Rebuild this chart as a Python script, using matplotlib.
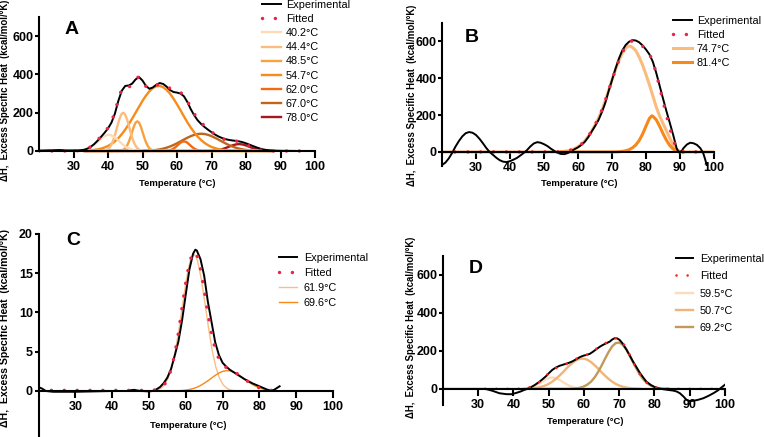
import matplotlib
matplotlib.use("Agg")
import matplotlib.pyplot as plt
from matplotlib.lines import Line2D

plt.rcParams['font.family'] = ['Liberation Sans', 'DejaVu Sans']

# ---------------- Panel A data ----------------
A_exp_T = [20, 22, 24, 26, 28, 30, 32, 33, 34, 35, 36, 37, 38, 39, 40, 41, 42, 43, 44, 45, 46, 47, 48, 49, 50,
           51, 52, 53, 54, 55, 56, 57, 58, 59, 60, 61, 62, 63, 64, 65, 66, 67, 68, 69, 70, 71, 72, 73, 74, 75,
           76, 77, 78, 79, 80, 81, 82, 83, 84, 85, 86, 87, 88, 90, 95, 100]
A_exp_Y = [2, 3, 4, 5, 3, 3, 4, 6, 12, 22, 36, 54, 74, 95, 118, 148, 195, 262, 315, 340, 342, 352, 374, 386, 368,
           340, 325, 332, 346, 355, 350, 336, 318, 308, 305, 300, 286, 256, 218, 186, 160, 141, 125, 111, 98, 86,
           76, 68, 62, 58, 55, 53, 50, 46, 40, 33, 26, 19, 13, 8, 5, 3, 2, 1, 0, 0]
A_fit_T = [20, 22, 24, 26, 28, 30, 31, 32, 33, 34, 35, 36, 37, 38, 39, 40, 41, 42, 43, 44, 45, 46, 47, 48, 49,
           50, 51, 52, 53, 54, 55, 56, 57, 58, 59, 60, 61, 62, 63, 64, 65, 66, 67, 68, 69, 70, 71, 72, 73, 74,
           75, 76, 77, 78, 79, 80, 81, 82, 83, 84, 85, 86, 87, 88, 89, 90, 92, 94, 96, 98]
A_fit_Y = [0, 0, 0, 0, 0, 0.5, 1.2, 2.8, 6, 12, 22, 37, 56, 78, 99, 121, 153, 203, 270, 324, 339, 333, 346, 378, 388,
           365, 337, 328, 336, 344, 348, 345, 337, 327, 317, 311, 306, 291, 262, 227, 194, 168, 148, 131, 115, 100,
           87, 74, 65, 59, 56, 54, 52, 49, 43, 34, 25, 17, 10, 5.7, 2.8, 1.2, 0.4, 0.1, 0, 0, 0, 0, 0, 0]
A_labels = ['40.2\u00b0C', '44.4\u00b0C', '48.5\u00b0C', '54.7\u00b0C', '62.0\u00b0C', '67.0\u00b0C', '78.0\u00b0C']
A_c1_T = [30, 31, 32, 33, 34, 35, 36, 37, 38, 39, 40, 41, 42, 43, 44, 45, 46, 47, 48, 49, 50, 52, 88]
A_c1_Y = [0.3, 0.8, 2, 4.8, 10, 19, 32, 48, 65, 78, 85, 82, 71, 55, 38, 24, 13, 6.5, 2.9, 1.1, 0.4, 0, 0]
A_c2_T = [33, 38, 38.5, 39, 39.5, 40, 40.5, 41, 41.5, 42, 42.5, 43, 43.5, 44, 44.5, 45, 45.5, 46, 46.5, 47,
          47.5, 48, 48.5, 49, 49.5, 50, 50.5, 51, 88]
A_c2_Y = [0, 0.4, 0.9, 2.2, 4.9, 10, 19, 34, 55, 82, 115, 148, 176, 195, 200, 189, 166, 135, 101, 70,
          45, 27, 15, 7.6, 3.6, 1.6, 0.6, 0.2, 0]
A_c3_T = [33, 42, 42.5, 43, 43.5, 44, 44.5, 45, 45.5, 46, 46.5, 47, 47.5, 48, 48.5, 49, 49.5, 50, 50.5, 51,
          51.5, 52, 52.5, 53, 53.5, 54, 54.5, 55, 88]
A_c3_Y = [0, 0, 0.1, 0.4, 1.2, 3, 6.8, 14, 27, 46, 71, 100, 128, 148, 155, 148, 128, 100, 71, 46,
          27, 14, 6.8, 3, 1.2, 0.4, 0.1, 0, 0]
A_c4_T = [30, 31, 32, 33, 34, 35, 36, 37, 38, 39, 40, 41, 42, 43, 44, 45, 46, 47, 48, 49, 50, 51, 52, 53, 54,
          55, 56, 57, 58, 59, 60, 61, 62, 63, 64, 65, 66, 67, 68, 69, 70, 71, 72, 73, 74, 75, 76, 77, 78, 80, 88]
A_c4_Y = [0.2, 0.4, 0.8, 1.3, 2.1, 3.4, 5.4, 8.3, 12.5, 18.4, 26, 37, 50, 67, 88, 112, 139, 169, 200, 231, 262,
          289, 312, 329, 338, 340, 333, 319, 299, 273, 244, 213, 181, 150, 122, 97, 75, 57, 42, 30, 21, 15, 9.8,
          6.5, 4.1, 2.6, 1.6, 0.9, 0.5, 0.1, 0]
A_c5_T = [33, 56, 56.5, 57, 57.5, 58, 58.5, 59, 59.5, 60, 60.5, 61, 61.5, 62, 62.5, 63, 63.5, 64, 64.5, 65,
          65.5, 66, 66.5, 67, 67.5, 68, 88]
A_c5_Y = [0, 0.2, 0.5, 1, 2.2, 4.3, 7.6, 12.5, 19, 27, 35, 43, 48, 50, 48, 43, 35, 27, 19, 12.5,
          7.6, 4.3, 2.2, 1, 0.5, 0.2, 0]
A_c6_T = [33, 48, 49, 50, 51, 52, 53, 54, 55, 56, 57, 58, 59, 60, 61, 62, 63, 64, 65, 66, 67, 68, 69, 70, 71,
          72, 73, 74, 75, 76, 77, 78, 79, 80, 81, 82, 83, 84, 85, 86, 88]
A_c6_Y = [0, 0.2, 0.4, 0.8, 1.3, 2.2, 3.5, 5.5, 8.3, 12.2, 17.2, 23.6, 31.2, 40, 49.7, 59.6, 69.1, 77.6, 84.2, 88.6,
          90, 88.6, 84.2, 77.6, 69.1, 59.6, 49.7, 40, 31.2, 23.6, 17.2, 12.2, 8.3, 5.5, 3.5, 2.2, 1.3, 0.8, 0.4,
          0.2, 0]
A_c7_T = [33, 68, 69, 70, 71, 72, 73, 74, 75, 76, 77, 78, 79, 80, 81, 82, 83, 84, 85, 86, 87, 88]
A_c7_Y = [0, 0.1, 0.4, 1, 2.4, 4.9, 9, 14.8, 21.9, 28.8, 34, 36, 34, 28.8, 21.9, 14.8, 9, 4.9, 2.4, 1, 0.4, 0.1]
A_colors = ['#fddcb5', '#fbbd7e', '#f9a040', '#f78c1c', '#f26a12', '#c0661a', '#a8161e']

# ---------------- Panel B data ----------------
B_exp_T = [20, 21, 22, 23, 24, 25, 26, 27, 28, 29, 30, 31, 32, 33, 34, 35, 36, 37, 38, 39, 40, 41, 42, 43, 44,
           45, 46, 47, 48, 49, 50, 51, 52, 53, 54, 55, 56, 57, 58, 59, 60, 61, 62, 63, 64, 65, 66, 67, 68, 69,
           70, 71, 72, 73, 74, 75, 76, 77, 78, 79, 80, 81, 82, 83, 84, 85, 86, 87, 88, 89, 89.7, 90.5, 91, 92,
           93, 94, 95, 96, 96.8, 97.4, 97.9]
B_exp_Y = [-71, -58, -35, -5, 30, 60, 85, 102, 108, 104, 92, 72, 48, 22, 0, -16, -32, -45, -53, -55, -50, -42, -33,
           -20, -6, 10, 30, 46, 53, 50, 42, 32, 18, 6, -5, -11, -12, -6, 5, 15, 25, 38, 55, 80, 110, 140, 172, 215,
           265, 330, 390, 450, 505, 550, 580, 598, 607, 605, 595, 578, 556, 530, 490, 430, 360, 290, 222, 158, 92,
           20, -3, 5, 20, 40, 50, 47, 38, 20, -5, -40, -75]
B_fit_T = [20, 30, 40, 50, 54, 55, 56, 57, 58, 59, 60, 61, 62, 63, 64, 65, 66, 67, 68, 69, 70, 71, 72, 73, 74,
           75, 76, 77, 78, 79, 80, 81, 82, 83, 84, 85, 86, 87, 88, 89, 90, 91, 95, 98]
B_fit_Y = [0, 0, 0, 0, 0.5, 1, 3, 6, 11, 18, 28, 42, 60, 84, 113, 146, 182, 226, 277, 333, 390, 445, 496, 538, 575,
           596, 603, 600, 590, 574, 556, 532, 492, 428, 352, 276, 200, 130, 66, 20, 3, 0, 0, 0]
B_labels = ['74.7\u00b0C', '81.4\u00b0C']
B_c1_T = [20, 50, 54, 55, 56, 57, 58, 59, 60, 61, 62, 63, 64, 65, 66, 67, 68, 69, 70, 71, 72, 73, 74, 74.7, 75.5,
          76, 77, 78, 79, 80, 81, 82, 83, 84, 85, 86, 87, 88, 89, 90, 91, 100]
B_c1_Y = [0, 0, 0.5, 1, 3, 6, 11, 18, 28, 42, 60, 84, 113, 146, 182, 226, 277, 333, 390, 445, 495, 535, 562, 575,
          573, 568, 550, 515, 472, 420, 365, 305, 245, 195, 155, 115, 75, 38, 12, 2, 0, 0]
B_c2_T = [55, 70, 72, 73, 74, 75, 76, 77, 78, 79, 80, 81, 81.7, 82, 83, 84, 85, 86, 87, 88, 89, 90, 91]
B_c2_Y = [0, 0, 1, 3, 6, 12, 22, 38, 62, 97, 140, 182, 196, 194, 175, 140, 100, 64, 35, 16, 5, 1, 0]
B_colors = ['#fbbb7c', '#f7881a']

# ---------------- Panel C data ----------------
C_exp_T = [20, 21, 22, 24, 26, 30, 35, 40, 44, 45, 46, 47, 48, 50, 51, 52, 53, 54, 55, 56, 57, 58, 59, 60, 61,
           62, 62.6, 63, 64, 65, 66, 67, 68, 69, 70, 71, 72, 73, 74, 75, 76, 77, 78, 79, 80, 81, 82, 83, 84, 85,
           85.5]
C_exp_Y = [0.5, 0.3, 0.0, -0.1, -0.1, -0.1, -0.05, 0, 0, 0.1, 0.15, 0.05, 0, -0.05, 0, 0.2, 0.5, 1.0, 1.7, 2.8,
           4.5, 6.3, 9.0, 12.3, 15.5, 17.5, 18.0, 17.9, 16.8, 14.7, 11.4, 8.8, 6.2, 4.6, 3.6, 3.1, 2.7, 2.4, 2.1,
           1.8, 1.5, 1.25, 1.0, 0.8, 0.6, 0.4, 0.2, 0.05, 0.15, 0.45, 0.6]
C_fit_T = [20, 30, 40, 50, 51, 52, 53, 54, 55, 56, 57, 58, 59, 60, 61, 62, 63, 64, 65, 66, 67, 68, 69, 70, 71,
           72, 73, 74, 75, 76, 77, 78, 79, 80, 81, 82, 83, 84]
C_fit_Y = [0.08, 0.08, 0.08, 0.08, 0.1, 0.15, 0.3, 0.65, 1.4, 2.67, 4.67, 7.38, 10.66, 13.8, 16.4, 17.7, 17.4,
           15.6, 12.9, 9.9, 7.3, 5.36, 4.1, 3.38, 2.99, 2.73, 2.48, 2.19, 1.85, 1.51, 1.17, 0.86, 0.60, 0.40,
           0.25, 0.15, 0.09, 0.05]
C_labels = ['61.9\u00b0C', '69.6\u00b0C']
C_c1_T = [50, 50.2, 51.2, 52.2, 53.2, 54.2, 55.2, 56.2, 57.2, 58.2, 59.2, 60.2, 61.2, 61.7, 62.2, 62.7, 63.2,
          64.2, 65.2, 66.2, 67.2, 68.2, 69.2, 70.2, 71.2, 72.2, 73.2, 74.2, 84]
C_c1_Y = [0, 0, 0.05, 0.13, 0.33, 0.77, 1.6, 3.0, 5.1, 8.0, 11.2, 14.3, 16.6, 17.2, 17.4, 17.2, 16.6,
          14.3, 11.2, 8.0, 5.1, 3.0, 1.6, 0.77, 0.33, 0.13, 0.05, 0, 0]
C_c2_T = [50, 56, 57, 58, 59, 60, 61, 62, 63, 64, 65, 66, 67, 68, 69, 70, 71, 72, 73, 74, 75, 76, 77, 78, 79,
          80, 81, 82, 83, 84, 85]
C_c2_Y = [0, 0.01, 0.02, 0.03, 0.06, 0.11, 0.19, 0.31, 0.47, 0.70, 0.98, 1.30, 1.65, 1.99, 2.28, 2.49, 2.59,
          2.57, 2.42, 2.17, 1.85, 1.51, 1.17, 0.86, 0.60, 0.40, 0.25, 0.15, 0.09, 0.05, 0.02]
C_colors = ['#f9be85', '#f7881a']

# ---------------- Panel D data ----------------
D_exp_T = [20, 25, 30, 32, 34, 36, 38, 39.5, 41, 42, 43, 44.5, 46, 47.4, 48.5, 49.3, 50, 51, 52, 53, 54, 55.4,
           56.5, 57.8, 58.8, 59.7, 60.5, 61.6, 62.5, 63.5, 64.5, 65.4, 66.3, 67.3, 68, 68.7, 69.4, 70.1, 71, 72.1,
           73, 73.9, 74.9, 75.8, 76.8, 77.7, 79, 80.1, 81, 82.5, 84, 85.3, 86.3, 87.2, 88.2, 89.1, 90, 91, 92.5,
           93.9, 95.3, 96.7, 98, 99.1, 100]
D_exp_Y = [0, 0, 0, 0, -10, -23, -28, -28, -20, -14, -6, 4, 20, 38, 55, 68, 82, 100, 112, 121, 127, 135, 143, 156,
           167, 174, 178, 184, 195, 209, 222, 232, 240, 249, 260, 267, 266, 258, 238, 205, 175, 144, 114, 86, 60,
           38, 20, 9, 3, -2, -6, -9, -14, -23, -40, -58, -64, -63, -57, -49, -37, -23, -8, 9, 22]
D_fit_T = [32, 36, 40, 41, 42, 43, 44, 45, 46, 47, 48, 49, 50, 51, 52, 53, 54, 55, 56, 57, 58, 59, 60, 61, 62,
           63, 64, 65, 66, 67, 68, 69, 70, 71, 72, 73, 74, 75, 76, 77, 78, 79, 80, 81, 82, 83, 84, 85, 90, 95, 100]
D_fit_Y = [0, 0, 0, 0, 0.7, 2.4, 5.3, 10.5, 19.1, 31.7, 47.7, 65.7, 82.8, 98, 109, 117, 123, 132, 141, 151, 160,
           168, 173, 182, 192, 205, 217, 228, 240, 252, 262, 267, 262, 243, 215, 178, 139, 103, 72, 46, 28.5, 16.4,
           8.9, 4.5, 2.2, 1, 0.4, 0, 0, 0, 0]
D_labels = ['59.5\u00b0C', '50.7\u00b0C', '69.2\u00b0C']
D_c1_T = [32, 42, 43, 44, 45, 46, 47, 48, 49, 50, 51, 52, 53, 54, 55, 56, 57, 58, 59, 60, 100]
D_c1_Y = [0, 0.7, 1.7, 4, 8.1, 14.9, 24.7, 36.4, 48.1, 56.8, 60, 56.8, 48.1, 36.4, 24.7, 14.9, 8.1, 4, 1.7, 0.7, 0]
D_c2_T = [43, 44, 45, 46, 47, 48, 49, 50, 51, 52, 53, 54, 55, 56, 57, 58, 59, 60, 61, 62, 63, 64, 65, 66, 67,
          68, 69, 70, 71, 72, 73, 74, 75, 76]
D_c2_Y = [0.7, 1.3, 2.4, 4.2, 7, 11.3, 17.6, 26, 38, 52, 69, 87, 107, 125, 141, 153, 159, 159, 153, 141, 125, 107,
          87, 69, 52, 38, 26, 17.6, 11.3, 7, 4.2, 2.4, 1.3, 0.7]
D_c3_T = [44, 56, 57, 58, 59, 60, 61, 62, 63, 64, 65, 66, 67, 68, 69, 70, 71, 72, 73, 74, 75, 76, 77, 78, 79,
          80, 81, 82, 83, 84]
D_c3_Y = [0, 0.7, 1.6, 3.4, 6.8, 13, 23, 38, 60, 89, 123, 160, 195, 224, 241, 244, 232, 208, 174, 137, 102, 71, 46,
          28.5, 16.4, 8.9, 4.5, 2.2, 1, 0.4]
D_colors = ['#fbdcbc', '#f1b478', '#c49858']

X_TICKS = [30, 40, 50, 60, 70, 80, 90, 100]
Y_TICKS_BIG = [0, 200, 400, 600]
Y_TICKS_C = [0, 5, 10, 15, 20]
YLABEL = '\u0394H,  Excess Specific Heat  (kcal/mol/\u00b0K)'
XLABEL = 'Temperature (\u00b0C)'

W, H = 764, 437
fig = plt.figure(figsize=(W / 100, H / 100), dpi=100)


def px_axes(l, t, r, b):
    return fig.add_axes([l / W, 1 - b / H, (r - l) / W, (b - t) / H])


def style(ax, ylim, yticks, bound_left=None):
    ax.set_xlim(20, 100)
    ax.set_ylim(*ylim)
    for s in ['top', 'right']:
        ax.spines[s].set_visible(False)
    ax.spines['left'].set_linewidth(1.5)
    ax.spines['bottom'].set_linewidth(1.5)
    ax.spines['bottom'].set_position(('data', 0))
    if bound_left is not None:
        ax.spines['left'].set_bounds(*bound_left)
    ax.set_xticks(X_TICKS)
    ax.set_yticks(yticks)
    ax.tick_params(axis='x', direction='out', length=5, width=1.5, pad=2, labelsize=9)
    ax.tick_params(axis='y', direction='out', length=3, width=1.5, pad=1, labelsize=9)
    for lab in ax.get_xticklabels() + ax.get_yticklabels():
        lab.set_fontweight('bold')
    ax.patch.set_alpha(0)


def fit_style(color, lw, gap):
    return dict(color=color, lw=lw, linestyle=(0, (0.01, gap)), dash_capstyle='round')


def make_legend(ax, labels, colors, clw, fitkw, fx, fy, lsp, hl=1.75, htp=0.45):
    handles = [Line2D([], [], color='black', lw=1.4), Line2D([], [], **fitkw)]
    for c in colors:
        handles.append(Line2D([], [], color=c, lw=clw))
    ax.legend(handles, ['Experimental', 'Fitted'] + labels, loc='upper left',
              bbox_to_anchor=(fx / W, 1 - fy / H), bbox_transform=fig.transFigure,
              frameon=False, fontsize=7.8, handlelength=hl, handletextpad=htp,
              labelspacing=lsp, borderpad=0, borderaxespad=0)


# ---- A ----
axA = px_axes(39, 17, 315, 152.5)
style(axA, (-8, 700), Y_TICKS_BIG, bound_left=(0, 700))
A_T = [A_c1_T, A_c2_T, A_c3_T, A_c4_T, A_c5_T, A_c6_T, A_c7_T]
A_Y = [A_c1_Y, A_c2_Y, A_c3_Y, A_c4_Y, A_c5_Y, A_c6_Y, A_c7_Y]
for i in reversed(range(7)):
    axA.plot(A_T[i], A_Y[i], color=A_colors[i], lw=1.7, solid_capstyle='round')
axA.plot(A_exp_T, A_exp_Y, color='black', lw=1.4)
fitA = fit_style('#e8244c', 2.5, 3.7)
axA.plot(A_fit_T, A_fit_Y, **fitA)
make_legend(axA, A_labels, A_colors, 1.7, fitA, 262, 0, 0.38)

# ---- B ----
axB = px_axes(442, 23, 714, 165.75)
style(axB, (-75, 700), Y_TICKS_BIG)
axB.plot(B_c1_T, B_c1_Y, color=B_colors[0], lw=2.2)
axB.plot(B_c2_T, B_c2_Y, color=B_colors[1], lw=2.2)
axB.plot(B_exp_T, B_exp_Y, color='black', lw=1.4)
fitB = fit_style('#e8244c', 2.5, 3.7)
axB.plot(B_fit_T, B_fit_Y, **fitB)
make_legend(axB, B_labels, B_colors, 2.2, fitB, 673, 16, 0.37)

# ---- C ----
axC = px_axes(38.5, 234, 333, 437)
style(axC, (-5.86, 20), Y_TICKS_C)
axC.plot(C_c1_T, C_c1_Y, color=C_colors[0], lw=1.0)
axC.plot(C_c2_T, C_c2_Y, color=C_colors[1], lw=1.0)
axC.plot(C_exp_T, C_exp_Y, color='black', lw=1.4)
fitC = fit_style('#e8244c', 2.5, 3.7)
axC.plot(C_fit_T, C_fit_Y, **fitC)
make_legend(axC, C_labels, C_colors, 1.0, fitC, 279, 253, 0.45, hl=1.7, htp=0.6)

# ---- D ----
axD = px_axes(443, 256, 725, 405)
style(axD, (-85, 700), Y_TICKS_BIG)
axD.plot(D_c1_T, D_c1_Y, color=D_colors[0], lw=1.7)
axD.plot(D_c2_T, D_c2_Y, color=D_colors[1], lw=1.7)
axD.plot(D_c3_T, D_c3_Y, color=D_colors[2], lw=1.7)
axD.plot(D_exp_T, D_exp_Y, color='black', lw=1.4)
fitD = fit_style('#ff1f1f', 1.9, 4.2)
axD.plot(D_fit_T, D_fit_Y, **fitD)
make_legend(axD, D_labels, D_colors, 1.7, fitD, 676, 254, 0.67, hl=1.6, htp=0.6)

# ---- texts ----
for (x, y, s) in [(5, 90, 6.9), (412, 95, 6.9), (5, 328, 7.6), (411, 327, 6.9)]:
    fig.text(x / W, 1 - y / H, YLABEL, rotation=90, ha='center', va='center',
             fontsize=s, fontweight='bold')
for (x, y) in [(177, 183), (579, 184), (188, 425), (585, 422)]:
    fig.text(x / W, 1 - y / H, XLABEL, ha='center', va='center', fontsize=6.8, fontweight='bold')
for (x, y, t) in [(65, 34, 'A'), (465, 42, 'B'), (66, 245, 'C'), (469, 273, 'D')]:
    fig.text(x / W, 1 - y / H, t, ha='left', va='baseline', fontsize=14, fontweight='bold')

fig.savefig('out.png', dpi=100)
